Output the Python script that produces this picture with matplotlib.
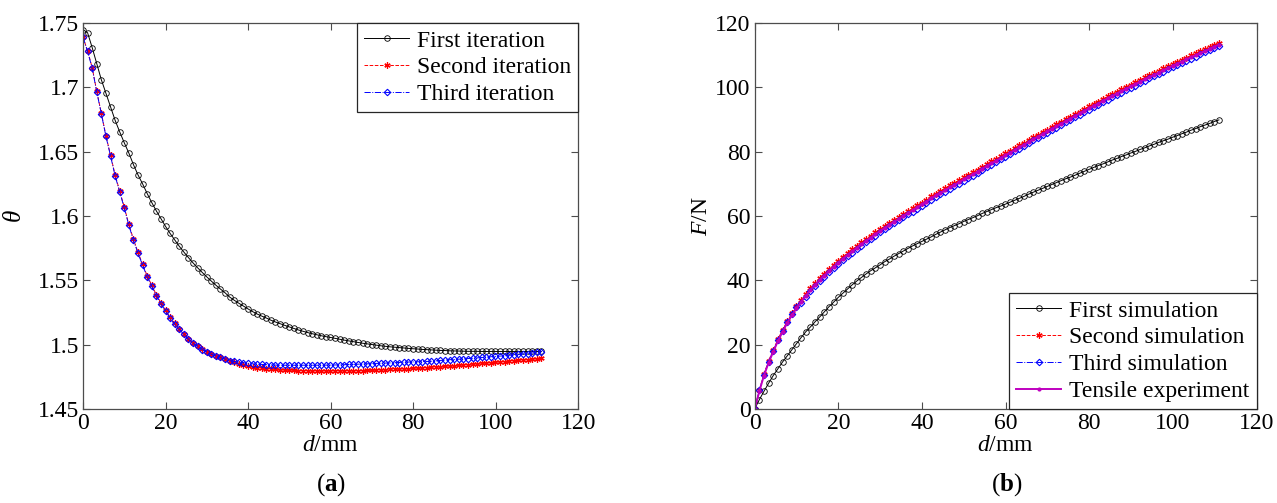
import numpy as np
import matplotlib
matplotlib.use('Agg')
import matplotlib.pyplot as plt
from matplotlib.ticker import FuncFormatter

plt.rcParams['font.family'] = ['Liberation Serif', 'DejaVu Serif']
plt.rcParams['mathtext.fontset'] = 'custom'
plt.rcParams['mathtext.rm'] = 'Liberation Serif'
plt.rcParams['mathtext.it'] = 'Liberation Serif:italic'
plt.rcParams['mathtext.bf'] = 'Liberation Serif:bold'

# displacement samples (mm), shared by every curve
disp_mm = np.linspace(0, 111, 101)

# (a) theta after each iteration
theta_first = [
    1.7450, 1.7425, 1.7310, 1.7185, 1.7060, 1.6955, 1.6850, 1.6745, 1.6655, 1.6570,
    1.6490, 1.6400, 1.6320, 1.6250, 1.6175, 1.6105, 1.6040, 1.5980, 1.5920, 1.5865,
    1.5815, 1.5765, 1.5720, 1.5677, 1.5636, 1.5598, 1.5562, 1.5527, 1.5494, 1.5462,
    1.5432, 1.5403, 1.5370, 1.5345, 1.5322, 1.5300, 1.5278, 1.5257, 1.5238, 1.5222,
    1.5207, 1.5190, 1.5176, 1.5163, 1.5150, 1.5138, 1.5126, 1.5114, 1.5104, 1.5094,
    1.5085, 1.5077, 1.5069, 1.5062, 1.5056, 1.5049, 1.5042, 1.5035, 1.5029, 1.5023,
    1.5017, 1.5011, 1.5006, 1.5001, 1.4996, 1.4991, 1.4987, 1.4983, 1.4980, 1.4977,
    1.4974, 1.4971, 1.4968, 1.4966, 1.4963, 1.4961, 1.4959, 1.4957, 1.4955, 1.4954,
    1.4952, 1.4951, 1.4950, 1.4949, 1.4948, 1.4948, 1.4948, 1.4947, 1.4947, 1.4947,
    1.4947, 1.4947, 1.4947, 1.4947, 1.4947, 1.4947, 1.4947, 1.4947, 1.4947, 1.4947,
    1.4947]
theta_second = [
    1.7390, 1.7285, 1.7155, 1.6970, 1.6800, 1.6625, 1.6475, 1.6320, 1.6195, 1.6070,
    1.5935, 1.5820, 1.5718, 1.5625, 1.5535, 1.5462, 1.5388, 1.5325, 1.5270, 1.5213,
    1.5165, 1.5125, 1.5085, 1.5047, 1.5015, 1.4993, 1.4966, 1.4945, 1.4927, 1.4914,
    1.4902, 1.4889, 1.4876, 1.4864, 1.4853, 1.4843, 1.4834, 1.4827, 1.4821, 1.4817,
    1.4813, 1.4810, 1.4807, 1.4804, 1.4802, 1.4800, 1.4799, 1.4798, 1.4797, 1.4797,
    1.4796, 1.4796, 1.4796, 1.4796, 1.4796, 1.4796, 1.4796, 1.4796, 1.4796, 1.4797,
    1.4797, 1.4798, 1.4799, 1.4800, 1.4802, 1.4804, 1.4805, 1.4807, 1.4808, 1.4810,
    1.4812, 1.4814, 1.4816, 1.4818, 1.4820, 1.4822, 1.4825, 1.4827, 1.4829, 1.4831,
    1.4834, 1.4837, 1.4839, 1.4842, 1.4845, 1.4848, 1.4851, 1.4854, 1.4857, 1.4860,
    1.4863, 1.4865, 1.4868, 1.4871, 1.4874, 1.4877, 1.4880, 1.4883, 1.4886, 1.4890,
    1.4894]
theta_third = [
    1.7390, 1.7280, 1.7150, 1.6965, 1.6795, 1.6620, 1.6468, 1.6313, 1.6188, 1.6063,
    1.5928, 1.5813, 1.5711, 1.5618, 1.5528, 1.5455, 1.5381, 1.5318, 1.5263, 1.5207,
    1.5159, 1.5119, 1.5080, 1.5042, 1.5010, 1.4988, 1.4962, 1.4942, 1.4925, 1.4912,
    1.4900, 1.4888, 1.4876, 1.4870, 1.4864, 1.4859, 1.4855, 1.4851, 1.4848, 1.4846,
    1.4844, 1.4842, 1.4841, 1.4840, 1.4840, 1.4840, 1.4840, 1.4840, 1.4840, 1.4840,
    1.4840, 1.4840, 1.4840, 1.4841, 1.4841, 1.4842, 1.4843, 1.4844, 1.4846, 1.4847,
    1.4848, 1.4850, 1.4851, 1.4853, 1.4854, 1.4855, 1.4857, 1.4858, 1.4860, 1.4861,
    1.4863, 1.4865, 1.4866, 1.4867, 1.4868, 1.4869, 1.4871, 1.4874, 1.4877, 1.4880,
    1.4883, 1.4885, 1.4887, 1.4889, 1.4892, 1.4894, 1.4897, 1.4900, 1.4903, 1.4906,
    1.4909, 1.4911, 1.4914, 1.4917, 1.4920, 1.4924, 1.4928, 1.4931, 1.4935, 1.4940,
    1.4946]

# (b) force (N) from each simulation and the tensile test
force_first = [
    0.0, 2.9, 5.5, 8.0, 10.4, 12.5, 14.6, 16.5, 18.4, 20.3,
    22.2, 24.0, 25.5, 27.1, 28.6, 30.2, 31.8, 33.2, 34.7, 36.0,
    37.3, 38.6, 39.8, 40.9, 42.0, 43.0, 43.9, 44.8, 45.8, 46.6,
    47.5, 48.3, 49.1, 49.9, 50.7, 51.4, 52.1, 52.8, 53.5, 54.3,
    55.0, 55.7, 56.4, 57.0, 57.6, 58.3, 58.9, 59.5, 60.1, 60.8,
    61.4, 62.0, 62.6, 63.1, 63.7, 64.3, 64.9, 65.5, 66.1, 66.8,
    67.4, 68.0, 68.6, 69.2, 69.8, 70.4, 71.0, 71.6, 72.1, 72.7,
    73.3, 73.9, 74.5, 75.1, 75.7, 76.2, 76.8, 77.4, 77.9, 78.5,
    79.0, 79.6, 80.1, 80.7, 81.2, 81.8, 82.3, 82.9, 83.4, 83.9,
    84.5, 85.0, 85.6, 86.1, 86.7, 87.2, 87.8, 88.3, 88.8, 89.4,
    89.9]
force_second = [
    0.0, 5.8, 10.8, 15.0, 18.4, 21.7, 24.6, 27.3, 29.7, 31.9,
    33.9, 35.8, 37.6, 39.2, 40.7, 42.1, 43.5, 44.8, 46.1, 47.3,
    48.5, 49.6, 50.7, 51.8, 52.9, 53.9, 54.9, 55.9, 56.9, 57.8,
    58.8, 59.7, 60.6, 61.5, 62.4, 63.3, 64.2, 65.1, 66.1, 67.0,
    67.8, 68.6, 69.5, 70.3, 71.1, 72.0, 72.8, 73.6, 74.4, 75.3,
    76.1, 77.0, 77.8, 78.6, 79.5, 80.3, 81.1, 82.0, 82.8, 83.6,
    84.5, 85.3, 86.1, 86.9, 87.7, 88.5, 89.3, 90.1, 90.9, 91.7,
    92.5, 93.3, 94.1, 94.9, 95.6, 96.4, 97.2, 97.9, 98.7, 99.4,
    100.2, 100.9, 101.6, 102.4, 103.1, 103.8, 104.5, 105.2, 105.9, 106.6,
    107.3, 108.0, 108.6, 109.3, 110.0, 110.6, 111.3, 111.9, 112.6, 113.3,
    113.9]
force_third = [
    0.0, 5.8, 10.7, 14.7, 18.1, 21.4, 24.3, 27.0, 29.4, 31.6,
    32.9, 34.8, 36.6, 38.2, 39.7, 41.1, 42.5, 43.8, 45.1, 46.3,
    47.5, 48.6, 49.7, 50.8, 51.9, 52.9, 53.9, 54.9, 55.9, 56.8,
    57.8, 58.7, 59.6, 60.5, 61.4, 62.3, 63.2, 64.1, 65.1, 66.0,
    66.8, 67.6, 68.5, 69.3, 70.1, 71.0, 71.8, 72.6, 73.4, 74.3,
    75.1, 76.0, 76.8, 77.6, 78.5, 79.3, 80.1, 81.0, 81.8, 82.6,
    83.5, 84.3, 85.1, 85.9, 86.7, 87.5, 88.3, 89.1, 89.9, 90.7,
    91.5, 92.3, 93.1, 93.9, 94.6, 95.4, 96.2, 96.9, 97.7, 98.4,
    99.2, 99.9, 100.6, 101.4, 102.1, 102.8, 103.5, 104.2, 104.9, 105.6,
    106.3, 107.0, 107.6, 108.3, 109.0, 109.6, 110.3, 110.9, 111.6, 112.3,
    113.0]
force_tensile = [
    0.0, 5.5, 10.4, 14.4, 17.8, 21.1, 24.0, 26.7, 29.1, 31.3,
    33.3, 35.2, 37.0, 38.6, 40.1, 41.5, 42.9, 44.2, 45.5, 46.7,
    47.9, 49.0, 50.1, 51.2, 52.3, 53.3, 54.3, 55.3, 56.3, 57.2,
    58.2, 59.1, 60.0, 60.9, 61.8, 62.7, 63.6, 64.5, 65.5, 66.4,
    67.2, 68.0, 68.9, 69.7, 70.5, 71.4, 72.2, 73.0, 73.8, 74.7,
    75.5, 76.4, 77.2, 78.0, 78.9, 79.7, 80.5, 81.4, 82.2, 83.0,
    83.9, 84.7, 85.5, 86.3, 87.1, 87.9, 88.7, 89.5, 90.3, 91.1,
    91.9, 92.7, 93.5, 94.3, 95.0, 95.8, 96.6, 97.3, 98.1, 98.8,
    99.6, 100.3, 101.0, 101.8, 102.5, 103.2, 103.9, 104.6, 105.3, 106.0,
    106.7, 107.4, 108.0, 108.7, 109.4, 110.0, 110.7, 111.3, 112.0, 112.7,
    113.3]

fig = plt.figure(figsize=(12.77, 5.03), dpi=100)
ax1 = fig.add_axes([0.065, 0.187, 0.388, 0.767])
ax2 = fig.add_axes([0.591, 0.187, 0.393, 0.767])

# MATLAB-like line specs: 'ko-', 'r*--', 'bd-.'
black = dict(color='k', lw=0.7, marker='o', ms=4, mfc='none', mew=0.6)
red = dict(color='r', ls='--', lw=0.7, marker=(6, 2, 0), ms=4.5, mew=0.9)
blue = dict(color='b', ls='-.', lw=0.7, marker='D', ms=3.3, mfc='none', mew=0.8)

ax1.plot(disp_mm, theta_first, label='First iteration', **black)
ax1.plot(disp_mm, theta_second, label='Second iteration', **red)
ax1.plot(disp_mm, theta_third, label='Third iteration', **blue)

ax2.plot(disp_mm, force_first, label='First simulation', **black)
ax2.plot(disp_mm, force_second, label='Second simulation', **red)
ax2.plot(disp_mm, force_third, label='Third simulation', **blue)
ax2.plot(disp_mm, force_tensile, label='Tensile experiment', color='m',
         lw=1.4, marker='.', ms=4)

ax1.set_xlim(0, 120)
ax1.set_ylim(1.45, 1.75)
ax1.set_yticks(np.arange(1.45, 1.7501, 0.05))
ax1.yaxis.set_major_formatter(FuncFormatter(lambda v, p: f'{round(v, 2):g}'))
ax1.set_ylabel(r'$\theta$', fontsize=18, labelpad=8)

ax2.set_xlim(0, 120)
ax2.set_ylim(0, 120)
ax2.set_yticks(np.arange(0, 121, 20))
ax2.set_ylabel(r'$F$/N', fontsize=17, labelpad=2)

for ax in (ax1, ax2):
    ax.set_xticks(np.arange(0, 121, 20))
    ax.set_xlabel(r'$d$/mm', fontsize=17, labelpad=1)
    ax.tick_params(direction='in', top=True, right=True, length=5,
                   width=0.8, labelsize=17, pad=3, color='0.3')
    for s in ax.spines.values():
        s.set_color('0.3')
        s.set_linewidth(0.9)

leg_opts = dict(borderaxespad=0, fancybox=False, edgecolor='0.15',
                framealpha=1, fontsize=17, numpoints=1, handlelength=1.9,
                labelspacing=0.22, borderpad=0.3, handletextpad=0.35)
leg1 = ax1.legend(loc='upper right', **leg_opts)
leg2 = ax2.legend(loc='lower right', **leg_opts)
for leg in (leg1, leg2):
    leg.get_frame().set_linewidth(0.9)

fig.text(0.259, 0.036, r'($\mathbf{a}$)', ha='center', va='center', fontsize=18)
fig.text(0.788, 0.036, r'($\mathbf{b}$)', ha='center', va='center', fontsize=18)

fig.savefig('out.png', dpi=100)
